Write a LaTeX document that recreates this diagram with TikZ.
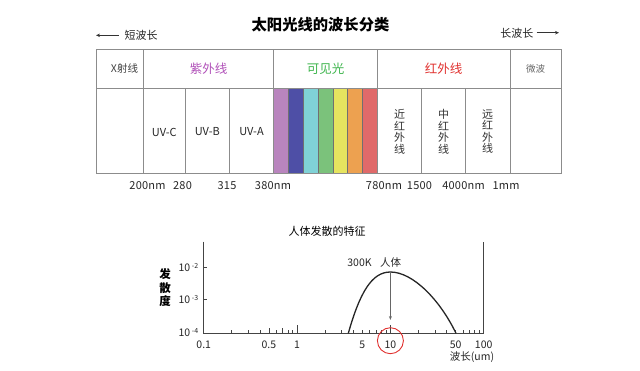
\documentclass[tikz,border=0pt]{standalone}
\usepackage{fontspec}
\setmainfont{Noto Sans CJK SC}
\newfontfamily\numfont[LetterSpace=2]{Noto Sans CJK SC}
\usetikzlibrary{arrows.meta}
\definecolor{gridc}{HTML}{8C8C8C}
\definecolor{uvc}{HTML}{B050B8}
\definecolor{visc}{HTML}{3CB44B}
\definecolor{irc}{HTML}{E0302E}
\definecolor{b1}{HTML}{B985BE}
\definecolor{b2}{HTML}{4E4FA6}
\definecolor{b3}{HTML}{80D2D6}
\definecolor{b4}{HTML}{7BC27B}
\definecolor{b5}{HTML}{E6E45F}
\definecolor{b6}{HTML}{EDA150}
\definecolor{b7}{HTML}{E06A6A}
\definecolor{axc}{HTML}{444444}
\tikzset{
  grid/.style={draw=gridc, line width=0.8pt},
  lbl/.style={inner sep=0pt, font=\fontsize{11}{13}\selectfont, text=black!85},
  cat/.style={inner sep=0pt, font=\fontsize{12.5}{14}\selectfont},
  vtxt/.style={inner sep=0pt, align=center, font=\fontsize{11}{11.5}\selectfont, text=black!80},
  num/.style={inner sep=0pt, font=\numfont\fontsize{11}{13}\selectfont, text=black!85},
  gnum/.style={inner sep=0pt, font=\fontsize{10.5}{12}\selectfont, text=black!85},
  axis/.style={draw=axc, line width=1pt},
  tick/.style={draw=axc, line width=0.7pt},
}
\newcommand{\xv}[1]{\pgfmathsetmacro\xx{203.7+93.33*(ln(#1)/ln(10)+1)}}
\begin{document}
\begin{tikzpicture}[x=1pt,y=-1pt]
\useasboundingbox (0,0) rectangle (640,370);
% title and direction arrows
\node[inner sep=0pt, font=\fontsize{15.3}{17}\selectfont\bfseries] (title) at (320.5,25) {太阳光线的波长分类};
\node[lbl, anchor=west] (short) at (124.5,35) {短波长};
\coordinate (sa) at (96,35.3);
\draw[-{Stealth[length=4pt,width=3.5pt]}, line width=0.8pt, black!80] (short.west) ++(-6,0.3) coordinate (sb) (sb) -- (sa);
\node[lbl, anchor=east] (long) at (533.5,33) {长波长};
\coordinate (la) at (559,32.7);
\draw[-{Stealth[length=4pt,width=3.5pt]}, line width=0.8pt, black!80] (long.east) ++(3,-0.3) coordinate (lb) (lb) -- (la);
% color bars
\foreach \c [count=\i from 0] in {b1,b2,b3,b4,b5,b6,b7}{
  \pgfmathsetmacro\xa{273.7+14.8*\i}
  \pgfmathsetmacro\xb{273.7+14.8*(\i+1)}
  \fill[\c] (\xa,88.3) rectangle (\xb,173.3);
  \draw[draw=gridc!80!black, line width=0.7pt] (\xa,88.3) rectangle (\xb,173.3);
}
% table grid
\draw[grid] (96,49.3) rectangle (561,173.3);
\draw[grid] (96,88.3) -- (561,88.3);
\foreach \x in {143.3,273.7,377.3,510}{\draw[grid] (\x,49.3) -- (\x,173.3);}
\foreach \x in {185.3,229.3,421.7,465.7}{\draw[grid] (\x,88.3) -- (\x,173.3);}
% category labels
\node[lbl, font=\fontsize{10.5}{12}\selectfont, text=black!75] (xr) at (124.5,69) {X射线};
\node[cat, text=uvc] (uv) at (208.5,69) {紫外线};
\node[cat, text=visc] (vis) at (325.5,69) {可见光};
\node[cat, text=irc] (ir) at (443.7,69) {红外线};
\node[lbl, font=\fontsize{9.5}{11}\selectfont, text=black!60] (mw) at (535.5,69) {微波};
% sub labels
\node[lbl] (uvcl) at (164.3,132) {UV-C};
\node[lbl] (uvbl) at (207.3,132) {UV-B};
\node[lbl] (uval) at (251.5,132) {UV-A};
\node[vtxt] (nir) at (399.5,131.7) {近\\红\\外\\线};
\node[vtxt] (mir) at (443.7,131.7) {中\\红\\外\\线};
\node[vtxt] (fir) at (487.7,131.7) {远\\红\\外\\线};
% wavelength numbers
\node[num] (n1) at (147.5,185.5) {200nm};
\node[num] (n2) at (182.5,185.5) {280};
\node[num] (n3) at (227,185.5) {315};
\node[num] (n4) at (273,185.5) {380nm};
\node[num] (n5) at (384,185.5) {780nm};
\node[num] (n6) at (419.5,185.5) {1500};
\node[num] (n7) at (463.5,185.5) {4000nm};
\node[num] (n8) at (506,185.5) {1mm};
% ---- graph ----
\node[inner sep=0pt, font=\fontsize{11}{12}\selectfont] (gt) at (327,231.5) {人体发散的特征};
\draw[axis] (203.7,241.7) -- (203.7,333.3) -- (483.7,333.3) -- (483.7,241.7);
\draw[tick] (203.7,267.3) -- (206.7,267.3);
\draw[tick] (203.7,299.3) -- (206.7,299.3);
\node[gnum, anchor=east] (y2) at (198.5,267.3) {10\,\raisebox{3pt}{\fontsize{7}{7}\selectfont -2}};
\node[gnum, anchor=east] (y3) at (198.5,299.3) {10\,\raisebox{3pt}{\fontsize{7}{7}\selectfont -3}};
\node[gnum, anchor=east] (y4) at (198.5,332.5) {10\,\raisebox{3pt}{\fontsize{7}{7}\selectfont -4}};
\node[inner sep=0pt, align=center, font=\fontsize{11.5}{13.5}\selectfont\bfseries] (ylab) at (165,288) {发\\散\\度};
% ticks
\foreach \v in {0.2,0.3,0.4,0.6,0.8,0.9,2,3,4,5,6,7,8,9,20,30,40,50,60,70,80,90}{
  \xv{\v}
  \draw[tick] (\xx,333.3) -- (\xx,330.3);
}
\foreach \v in {0.5,0.7}{
  \xv{\v}
  \draw[tick] (\xx,333.3) -- (\xx,328.3);
}
\foreach \v in {1,10}{
  \xv{\v}
  \draw[tick] (\xx,333.3) -- (\xx,325.3);
}
\foreach \v/\t in {0.1/0.1,0.5/0.5,1/1,5/5,10/10,50/50,100/100}{
  \xv{\v}
  \node[gnum] at (\xx,344.5) {\t};
}
% curve
\coordinate (c0) at (348.3,333.3);
\coordinate (peak) at (390.4,272);
\coordinate (c1) at (456,333.3);
\draw[draw=black!85, line width=1.3pt] (c0) .. controls (360,292) and (372,272) .. (peak)
  .. controls (413,272) and (440,300) .. (c1);
\coordinate (aend) at (390.4,320);
\draw[draw=black!60, line width=0.8pt, -{Stealth[length=4pt,width=3pt]}] (peak) -- (aend);
\node[gnum] (k) at (359.5,263) {300K};
\node[gnum] (hb) at (390.7,263) {人体};
\draw[draw=irc, line width=0.9pt] (390.4,340.7) circle (13);
\node[gnum] (xl) at (472,357) {波长(um)};
\end{tikzpicture}
\end{document}
